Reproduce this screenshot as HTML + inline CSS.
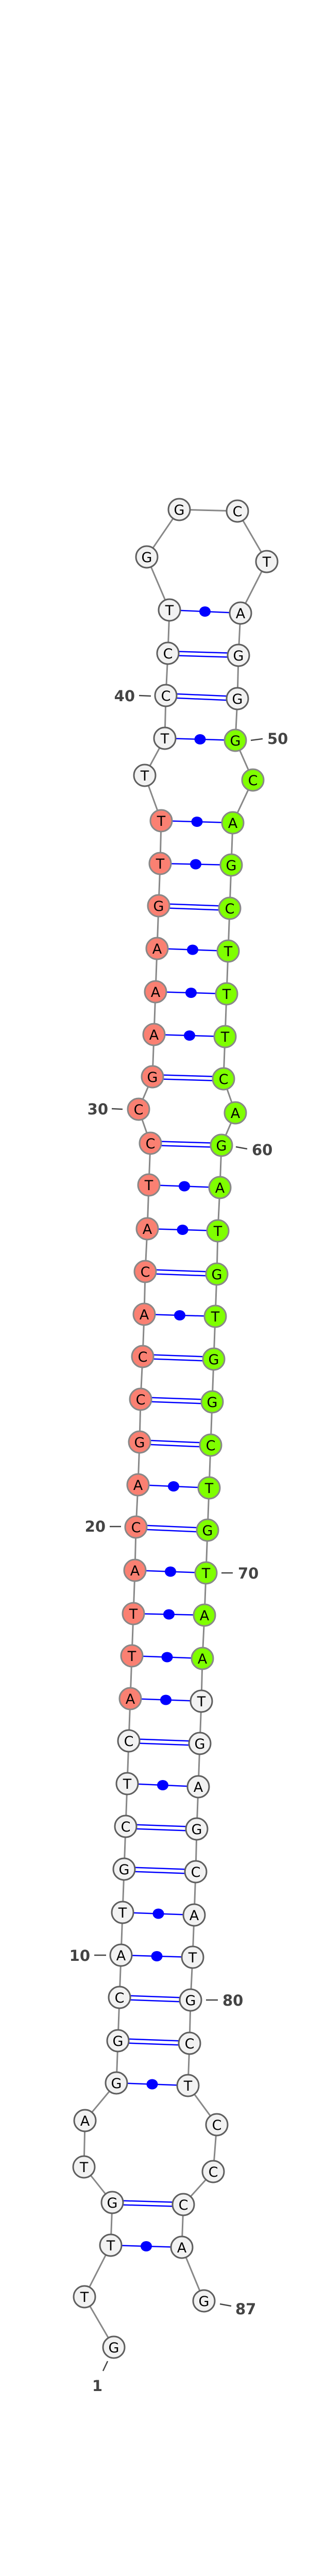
<!DOCTYPE html>
<html><head><meta charset="utf-8"><style>
html,body{margin:0;padding:0;background:#fff;width:600px;height:5479px;overflow:hidden;}
svg{display:block;position:absolute;left:0;top:0;}
.nt{font-family:"DejaVu Sans","Liberation Sans",sans-serif;font-size:27px;text-anchor:middle;fill:#000;}
.lb{font-family:"DejaVu Sans","Liberation Sans",sans-serif;font-size:29px;font-weight:bold;fill:#444;}
.w{fill:#f2f2f2;stroke:#5f5f5f;stroke-width:3;}
.s{fill:#fa8072;stroke:#888;stroke-width:3;}
.g{fill:#7fff00;stroke:#888;stroke-width:3;}
.p line{stroke:#00f;stroke-width:2.5;}
.p ellipse{fill:#00f;}
.tk{stroke:#444;stroke-width:2.5;}
</style></head><body>
<svg width="600" height="5479" viewBox="0 0 600 5479" xmlns="http://www.w3.org/2000/svg">
<polyline fill="none" stroke="#888" stroke-width="3" points="221,4556 164,4458 215,4358 218,4275 163,4206 165,4116 226,4043 229,3961 232,3877 235,3795 238,3712 241,3628 244,3545 247,3462 250,3379 253,3297 256,3214 259,3132 262,3048 264,2964 268,2882 271,2799 273,2716 277,2633 280,2551 282,2468 286,2385 289,2300 292,2219 269,2153 296,2090 299,2008 302,1925 305,1841 308,1758 311,1676 313,1593 281,1505 320,1433 322,1350 326,1268 329,1184 285,1081 348,989 461,992 518,1090 467,1190 463,1272 461,1356 457,1437 491,1514 452,1597 449,1679 446,1763 443,1846 440,1929 437,2012 434,2094 457,2160 430,2223 427,2305 423,2389 421,2473 418,2555 415,2638 412,2721 409,2805 406,2888 403,2970 400,3053 397,3135 393,3219 391,3302 388,3384 385,3468 382,3550 380,3633 377,3717 374,3799 370,3882 368,3966 365,4048 421,4124 414,4215 356,4279 353,4362 396,4466"/>
<g class="p">
<line x1="215" y1="4358" x2="353" y2="4362"/><ellipse cx="284" cy="4360" rx="11" ry="10"/>
<line x1="226" y1="4043" x2="365" y2="4048"/><ellipse cx="295.5" cy="4045.5" rx="11" ry="10"/>
<line x1="235" y1="3795" x2="374" y2="3799"/><ellipse cx="304.5" cy="3797" rx="11" ry="10"/>
<line x1="238" y1="3712" x2="377" y2="3717"/><ellipse cx="307.5" cy="3714.5" rx="11" ry="10"/>
<line x1="247" y1="3462" x2="385" y2="3468"/><ellipse cx="316" cy="3465" rx="11" ry="10"/>
<line x1="253" y1="3297" x2="391" y2="3302"/><ellipse cx="322" cy="3299.5" rx="11" ry="10"/>
<line x1="256" y1="3214" x2="393" y2="3219"/><ellipse cx="324.5" cy="3216.5" rx="11" ry="10"/>
<line x1="259" y1="3132" x2="397" y2="3135"/><ellipse cx="328" cy="3133.5" rx="11" ry="10"/>
<line x1="262" y1="3048" x2="400" y2="3053"/><ellipse cx="331" cy="3050.5" rx="11" ry="10"/>
<line x1="268" y1="2882" x2="406" y2="2888"/><ellipse cx="337" cy="2885" rx="11" ry="10"/>
<line x1="280" y1="2551" x2="418" y2="2555"/><ellipse cx="349" cy="2553" rx="11" ry="10"/>
<line x1="286" y1="2385" x2="423" y2="2389"/><ellipse cx="354.5" cy="2387" rx="11" ry="10"/>
<line x1="289" y1="2300" x2="427" y2="2305"/><ellipse cx="358" cy="2302.5" rx="11" ry="10"/>
<line x1="299" y1="2008" x2="437" y2="2012"/><ellipse cx="368" cy="2010" rx="11" ry="10"/>
<line x1="302" y1="1925" x2="440" y2="1929"/><ellipse cx="371" cy="1927" rx="11" ry="10"/>
<line x1="305" y1="1841" x2="443" y2="1846"/><ellipse cx="374" cy="1843.5" rx="11" ry="10"/>
<line x1="311" y1="1676" x2="449" y2="1679"/><ellipse cx="380" cy="1677.5" rx="11" ry="10"/>
<line x1="313" y1="1593" x2="452" y2="1597"/><ellipse cx="382.5" cy="1595" rx="11" ry="10"/>
<line x1="320" y1="1433" x2="457" y2="1437"/><ellipse cx="388.5" cy="1435" rx="11" ry="10"/>
<line x1="329" y1="1184" x2="467" y2="1190"/><ellipse cx="398" cy="1187" rx="11" ry="10"/>

<line x1="218" y1="4271" x2="356" y2="4275"/><line x1="218" y1="4279" x2="356" y2="4283"/>
<line x1="229" y1="3957" x2="368" y2="3962"/><line x1="229" y1="3965" x2="368" y2="3970"/>
<line x1="232" y1="3873" x2="370" y2="3878"/><line x1="232" y1="3881" x2="370" y2="3886"/>
<line x1="241" y1="3624" x2="380" y2="3629"/><line x1="241" y1="3632" x2="380" y2="3637"/>
<line x1="244" y1="3541" x2="382" y2="3546"/><line x1="244" y1="3549" x2="382" y2="3554"/>
<line x1="250" y1="3375" x2="388" y2="3380"/><line x1="250" y1="3383" x2="388" y2="3388"/>
<line x1="264" y1="2960" x2="403" y2="2966"/><line x1="264" y1="2968" x2="403" y2="2974"/>
<line x1="271" y1="2795" x2="409" y2="2801"/><line x1="271" y1="2803" x2="409" y2="2809"/>
<line x1="273" y1="2712" x2="412" y2="2717"/><line x1="273" y1="2720" x2="412" y2="2725"/>
<line x1="277" y1="2629" x2="415" y2="2634"/><line x1="277" y1="2637" x2="415" y2="2642"/>
<line x1="282" y1="2464" x2="421" y2="2469"/><line x1="282" y1="2472" x2="421" y2="2477"/>
<line x1="292" y1="2215" x2="430" y2="2219"/><line x1="292" y1="2223" x2="430" y2="2227"/>
<line x1="296" y1="2086" x2="434" y2="2090"/><line x1="296" y1="2094" x2="434" y2="2098"/>
<line x1="308" y1="1754" x2="446" y2="1759"/><line x1="308" y1="1762" x2="446" y2="1767"/>
<line x1="322" y1="1346" x2="461" y2="1352"/><line x1="322" y1="1354" x2="461" y2="1360"/>
<line x1="326" y1="1264" x2="463" y2="1268"/><line x1="326" y1="1272" x2="463" y2="1276"/>
</g>
<g>
<circle class="w" cx="221" cy="4556" r="21"/><circle class="w" cx="164" cy="4458" r="21"/><circle class="w" cx="215" cy="4358" r="21"/><circle class="w" cx="218" cy="4275" r="21"/><circle class="w" cx="163" cy="4206" r="21"/><circle class="w" cx="165" cy="4116" r="21"/><circle class="w" cx="226" cy="4043" r="21"/><circle class="w" cx="229" cy="3961" r="21"/><circle class="w" cx="232" cy="3877" r="21"/><circle class="w" cx="235" cy="3795" r="21"/><circle class="w" cx="238" cy="3712" r="21"/><circle class="w" cx="241" cy="3628" r="21"/><circle class="w" cx="244" cy="3545" r="21"/><circle class="w" cx="247" cy="3462" r="21"/><circle class="w" cx="250" cy="3379" r="21"/>
<circle class="s" cx="253" cy="3297" r="21"/><circle class="s" cx="256" cy="3214" r="21"/><circle class="s" cx="259" cy="3132" r="21"/><circle class="s" cx="262" cy="3048" r="21"/><circle class="s" cx="264" cy="2964" r="21"/><circle class="s" cx="268" cy="2882" r="21"/><circle class="s" cx="271" cy="2799" r="21"/><circle class="s" cx="273" cy="2716" r="21"/><circle class="s" cx="277" cy="2633" r="21"/><circle class="s" cx="280" cy="2551" r="21"/><circle class="s" cx="282" cy="2468" r="21"/><circle class="s" cx="286" cy="2385" r="21"/><circle class="s" cx="289" cy="2300" r="21"/><circle class="s" cx="292" cy="2219" r="21"/><circle class="s" cx="269" cy="2153" r="21"/><circle class="s" cx="296" cy="2090" r="21"/><circle class="s" cx="299" cy="2008" r="21"/><circle class="s" cx="302" cy="1925" r="21"/><circle class="s" cx="305" cy="1841" r="21"/><circle class="s" cx="308" cy="1758" r="21"/><circle class="s" cx="311" cy="1676" r="21"/><circle class="s" cx="313" cy="1593" r="21"/>
<circle class="w" cx="281" cy="1505" r="21"/><circle class="w" cx="320" cy="1433" r="21"/><circle class="w" cx="322" cy="1350" r="21"/><circle class="w" cx="326" cy="1268" r="21"/><circle class="w" cx="329" cy="1184" r="21"/><circle class="w" cx="285" cy="1081" r="21"/><circle class="w" cx="348" cy="989" r="21"/><circle class="w" cx="461" cy="992" r="21"/><circle class="w" cx="518" cy="1090" r="21"/><circle class="w" cx="467" cy="1190" r="21"/><circle class="w" cx="463" cy="1272" r="21"/><circle class="w" cx="461" cy="1356" r="21"/>
<circle class="g" cx="457" cy="1437" r="21"/><circle class="g" cx="491" cy="1514" r="21"/><circle class="g" cx="452" cy="1597" r="21"/><circle class="g" cx="449" cy="1679" r="21"/><circle class="g" cx="446" cy="1763" r="21"/><circle class="g" cx="443" cy="1846" r="21"/><circle class="g" cx="440" cy="1929" r="21"/><circle class="g" cx="437" cy="2012" r="21"/><circle class="g" cx="434" cy="2094" r="21"/><circle class="g" cx="457" cy="2160" r="21"/><circle class="g" cx="430" cy="2223" r="21"/><circle class="g" cx="427" cy="2305" r="21"/><circle class="g" cx="423" cy="2389" r="21"/><circle class="g" cx="421" cy="2473" r="21"/><circle class="g" cx="418" cy="2555" r="21"/><circle class="g" cx="415" cy="2638" r="21"/><circle class="g" cx="412" cy="2721" r="21"/><circle class="g" cx="409" cy="2805" r="21"/><circle class="g" cx="406" cy="2888" r="21"/><circle class="g" cx="403" cy="2970" r="21"/><circle class="g" cx="400" cy="3053" r="21"/><circle class="g" cx="397" cy="3135" r="21"/><circle class="g" cx="393" cy="3219" r="21"/>
<circle class="w" cx="391" cy="3302" r="21"/><circle class="w" cx="388" cy="3384" r="21"/><circle class="w" cx="385" cy="3468" r="21"/><circle class="w" cx="382" cy="3550" r="21"/><circle class="w" cx="380" cy="3633" r="21"/><circle class="w" cx="377" cy="3717" r="21"/><circle class="w" cx="374" cy="3799" r="21"/><circle class="w" cx="370" cy="3882" r="21"/><circle class="w" cx="368" cy="3966" r="21"/><circle class="w" cx="365" cy="4048" r="21"/><circle class="w" cx="421" cy="4124" r="21"/><circle class="w" cx="414" cy="4215" r="21"/><circle class="w" cx="356" cy="4279" r="21"/><circle class="w" cx="353" cy="4362" r="21"/><circle class="w" cx="396" cy="4466" r="21"/>
</g>
<g class="nt">
<text x="221" y="4566">G</text><text x="164" y="4468">T</text><text x="215" y="4368">T</text><text x="218" y="4285">G</text><text x="163" y="4216">T</text><text x="165" y="4126">A</text><text x="226" y="4053">G</text><text x="229" y="3971">G</text><text x="232" y="3887">C</text><text x="235" y="3805">A</text><text x="238" y="3722">T</text><text x="241" y="3638">G</text><text x="244" y="3555">C</text><text x="247" y="3472">T</text><text x="250" y="3389">C</text>
<text x="253" y="3307">A</text><text x="256" y="3224">T</text><text x="259" y="3142">T</text><text x="262" y="3058">A</text><text x="264" y="2974">C</text><text x="268" y="2892">A</text><text x="271" y="2809">G</text><text x="273" y="2726">C</text><text x="277" y="2643">C</text><text x="280" y="2561">A</text><text x="282" y="2478">C</text><text x="286" y="2395">A</text><text x="289" y="2310">T</text><text x="292" y="2229">C</text><text x="269" y="2163">C</text><text x="296" y="2100">G</text><text x="299" y="2018">A</text><text x="302" y="1935">A</text><text x="305" y="1851">A</text><text x="308" y="1768">G</text><text x="311" y="1686">T</text><text x="313" y="1603">T</text>
<text x="281" y="1515">T</text><text x="320" y="1443">T</text><text x="322" y="1360">C</text><text x="326" y="1278">C</text><text x="329" y="1194">T</text><text x="285" y="1091">G</text><text x="348" y="999">G</text><text x="461" y="1002">C</text><text x="518" y="1100">T</text><text x="467" y="1200">A</text><text x="463" y="1282">G</text><text x="461" y="1366">G</text>
<text x="457" y="1447">G</text><text x="491" y="1524">C</text><text x="452" y="1607">A</text><text x="449" y="1689">G</text><text x="446" y="1773">C</text><text x="443" y="1856">T</text><text x="440" y="1939">T</text><text x="437" y="2022">T</text><text x="434" y="2104">C</text><text x="457" y="2170">A</text><text x="430" y="2233">G</text><text x="427" y="2315">A</text><text x="423" y="2399">T</text><text x="421" y="2483">G</text><text x="418" y="2565">T</text><text x="415" y="2648">G</text><text x="412" y="2731">G</text><text x="409" y="2815">C</text><text x="406" y="2898">T</text><text x="403" y="2980">G</text><text x="400" y="3063">T</text><text x="397" y="3145">A</text><text x="393" y="3229">A</text>
<text x="391" y="3312">T</text><text x="388" y="3394">G</text><text x="385" y="3478">A</text><text x="382" y="3560">G</text><text x="380" y="3643">C</text><text x="377" y="3727">A</text><text x="374" y="3809">T</text><text x="370" y="3892">G</text><text x="368" y="3976">C</text><text x="365" y="4058">T</text><text x="421" y="4134">C</text><text x="414" y="4225">C</text><text x="356" y="4289">C</text><text x="353" y="4372">A</text><text x="396" y="4476">G</text>
</g>
<g>
<line class="tk" x1="270" y1="1350" x2="293" y2="1351"/><text class="lb" x="262" y="1361" text-anchor="end">40</text>
<line class="tk" x1="487" y1="1437" x2="510" y2="1434"/><text class="lb" x="519" y="1444">50</text>
<line class="tk" x1="217" y1="2152" x2="238" y2="2153"/><text class="lb" x="210" y="2163" text-anchor="end">30</text>
<line class="tk" x1="458" y1="2226" x2="480" y2="2230"/><text class="lb" x="489" y="2242">60</text>
<line class="tk" x1="213" y1="2963" x2="235" y2="2963"/><text class="lb" x="205" y="2973" text-anchor="end">20</text>
<line class="tk" x1="430" y1="3053" x2="452" y2="3053"/><text class="lb" x="462" y="3064">70</text>
<line class="tk" x1="183" y1="3795" x2="206" y2="3795"/><text class="lb" x="175" y="3806" text-anchor="end">10</text>
<line class="tk" x1="400" y1="3882" x2="423" y2="3882"/><text class="lb" x="432" y="3893">80</text>
<line class="tk" x1="427" y1="4472" x2="449" y2="4476"/><text class="lb" x="457" y="4492">87</text>
<line class="tk" x1="200" y1="4602" x2="209" y2="4583"/><text class="lb" x="189" y="4641" text-anchor="middle">1</text>
</g>
<text x="300" y="5474" text-anchor="middle" font-family="DejaVu Sans, Liberation Sans, sans-serif" font-size="11" font-weight="bold" fill="#000">mmu-mir-693_annot [-56.1]</text>
</svg>
</body></html>
